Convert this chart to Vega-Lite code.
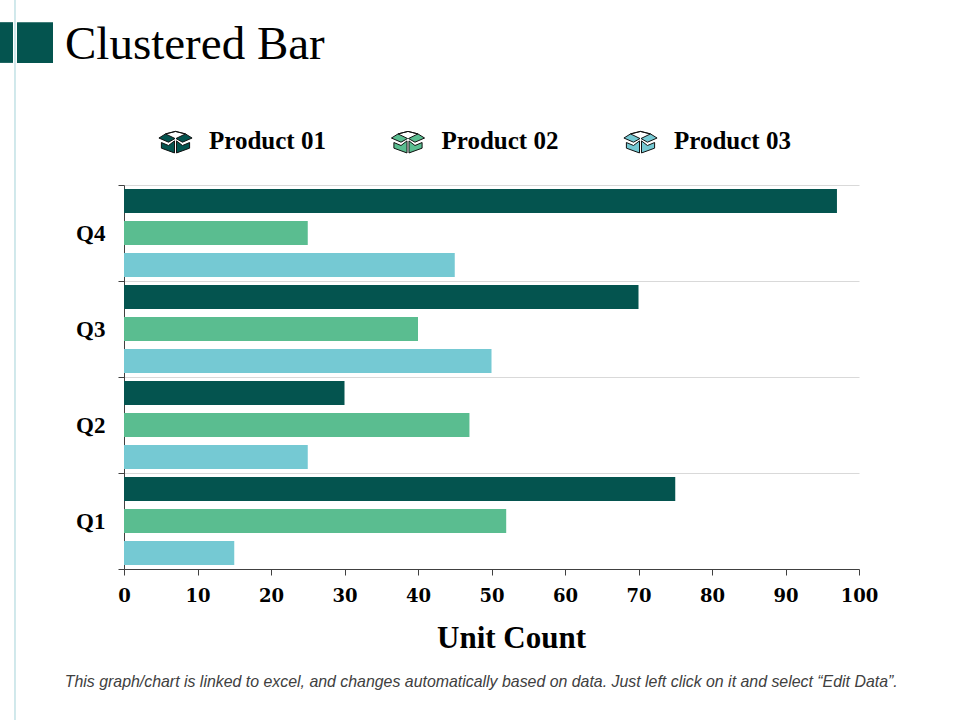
{
  "$schema": "https://vega.github.io/schema/vega-lite/v6.json",
  "width": 735,
  "height": 384,
  "autosize": "none",
  "padding": {"left": 124, "top": 185, "right": 101, "bottom": 151},
  "background": "white",
  "title": {
    "text": "Clustered Bar",
    "anchor": "start",
    "frame": "group",
    "dx": -59,
    "offset": -70,
    "font": "Liberation Serif",
    "fontSize": 47,
    "fontWeight": "normal",
    "color": "#000000"
  },
  "config": {"view": {"stroke": null}},
  "datasets": {
    "sales": [
      {"quarter": "Q4", "product": "Product 01", "units": 97},
      {"quarter": "Q4", "product": "Product 02", "units": 25},
      {"quarter": "Q4", "product": "Product 03", "units": 45},
      {"quarter": "Q3", "product": "Product 01", "units": 70},
      {"quarter": "Q3", "product": "Product 02", "units": 40},
      {"quarter": "Q3", "product": "Product 03", "units": 50},
      {"quarter": "Q2", "product": "Product 01", "units": 30},
      {"quarter": "Q2", "product": "Product 02", "units": 47},
      {"quarter": "Q2", "product": "Product 03", "units": 25},
      {"quarter": "Q1", "product": "Product 01", "units": 75},
      {"quarter": "Q1", "product": "Product 02", "units": 52},
      {"quarter": "Q1", "product": "Product 03", "units": 15}
    ]
  },
  "resolve": {"scale": {"y": "independent"}},
  "layer": [
    {
      "data": {"name": "sales"},
      "mark": {"type": "bar"},
      "encoding": {
        "y": {
          "field": "quarter",
          "type": "nominal",
          "sort": "descending",
          "scale": {"paddingInner": 0, "paddingOuter": 0},
          "axis": {
            "title": null,
            "tickBand": "extent",
            "grid": true,
            "gridColor": "#d9d9d9",
            "domainColor": "#404040",
            "tickColor": "#404040",
            "tickSize": 6,
            "labelPadding": 13,
            "labelFont": "Liberation Serif",
            "labelFontWeight": "bold",
            "labelFontSize": 23,
            "labelColor": "#000000"
          }
        },
        "yOffset": {
          "field": "product",
          "type": "nominal",
          "scale": {"paddingInner": 0.25, "paddingOuter": 0.125}
        },
        "x": {
          "field": "units",
          "type": "quantitative",
          "scale": {"domain": [0, 100]},
          "axis": {
            "title": "Unit Count",
            "values": [0, 10, 20, 30, 40, 50, 60, 70, 80, 90, 100],
            "grid": false,
            "domainColor": "#404040",
            "tickColor": "#404040",
            "tickSize": 6,
            "labelFlush": false,
            "labelPadding": 12,
            "labelFont": "DejaVu Serif",
            "labelFontWeight": "bold",
            "labelFontSize": 18,
            "labelColor": "#000000",
            "titleFont": "Liberation Serif",
            "titleFontWeight": "bold",
            "titleFontSize": 31,
            "titleColor": "#000000",
            "titleX": 387,
            "titlePadding": 18
          }
        },
        "color": {
          "field": "product",
          "type": "nominal",
          "scale": {"range": ["#04544f", "#5abd90", "#75c9d3"]},
          "legend": {
            "title": null,
            "orient": "none",
            "direction": "horizontal",
            "legendX": 34,
            "legendY": -62,
            "columns": 3,
            "columnPadding": 62.5,
            "symbolType": "M-1,-0.15L-0.6,-0.4L-0.03,-0.12L-0.42,0.1L-1,-0.15ZM1,-0.15L0.6,-0.4L0.03,-0.12L0.42,0.1L1,-0.15ZM-0.85,0.12L-0.42,0.3L-0.06,0.02L-0.06,0.75L-0.85,0.46ZM0.85,0.12L0.42,0.3L0.06,0.02L0.06,0.75L0.85,0.46ZM-0.6,-0.4L0,-0.55L0.6,-0.4L0,-0.55Z",
            "symbolSize": 1100,
            "symbolStrokeColor": "#111111",
            "symbolStrokeWidth": 1,
            "labelFont": "Liberation Serif",
            "labelFontWeight": "bold",
            "labelFontSize": 25,
            "labelColor": "#000000",
            "labelOffset": 16
          }
        }
      }
    },
    {
      "data": {"values": [{"note": "This graph/chart is linked to excel, and changes automatically based on data. Just left click on it and select “Edit Data”."}]},
      "mark": {"type": "text", "font": "Liberation Sans", "fontStyle": "italic", "fontSize": 15.9, "color": "#404040", "align": "center", "baseline": "middle", "clip": false},
      "encoding": {
        "text": {"field": "note"},
        "x": {"datum": 48.6, "type": "quantitative"},
        "y": {"datum": -29.5, "type": "quantitative", "scale": {"domain": [0, 100]}, "axis": null}
      }
    },
    {
      "data": {"values": [{}]},
      "mark": {"type": "rule", "color": "#a3d2d8", "strokeWidth": 1},
      "encoding": {
        "x": {"datum": -14.83, "type": "quantitative"},
        "y": {"datum": 148.2, "type": "quantitative", "scale": {"domain": [0, 100]}, "axis": null},
        "y2": {"datum": -39.4}
      }
    },
    {
      "data": {"values": [{}]},
      "mark": {"type": "rect", "color": "#04544f"},
      "encoding": {
        "x": {"datum": -16.87, "type": "quantitative"},
        "x2": {"datum": -15.1},
        "y": {"datum": 142.4, "type": "quantitative", "scale": {"domain": [0, 100]}, "axis": null},
        "y2": {"datum": 131.8}
      }
    },
    {
      "data": {"values": [{}]},
      "mark": {"type": "rect", "color": "#04544f"},
      "encoding": {
        "x": {"datum": -14.56, "type": "quantitative"},
        "x2": {"datum": -9.66},
        "y": {"datum": 142.4, "type": "quantitative", "scale": {"domain": [0, 100]}, "axis": null},
        "y2": {"datum": 131.8}
      }
    }
  ]
}
